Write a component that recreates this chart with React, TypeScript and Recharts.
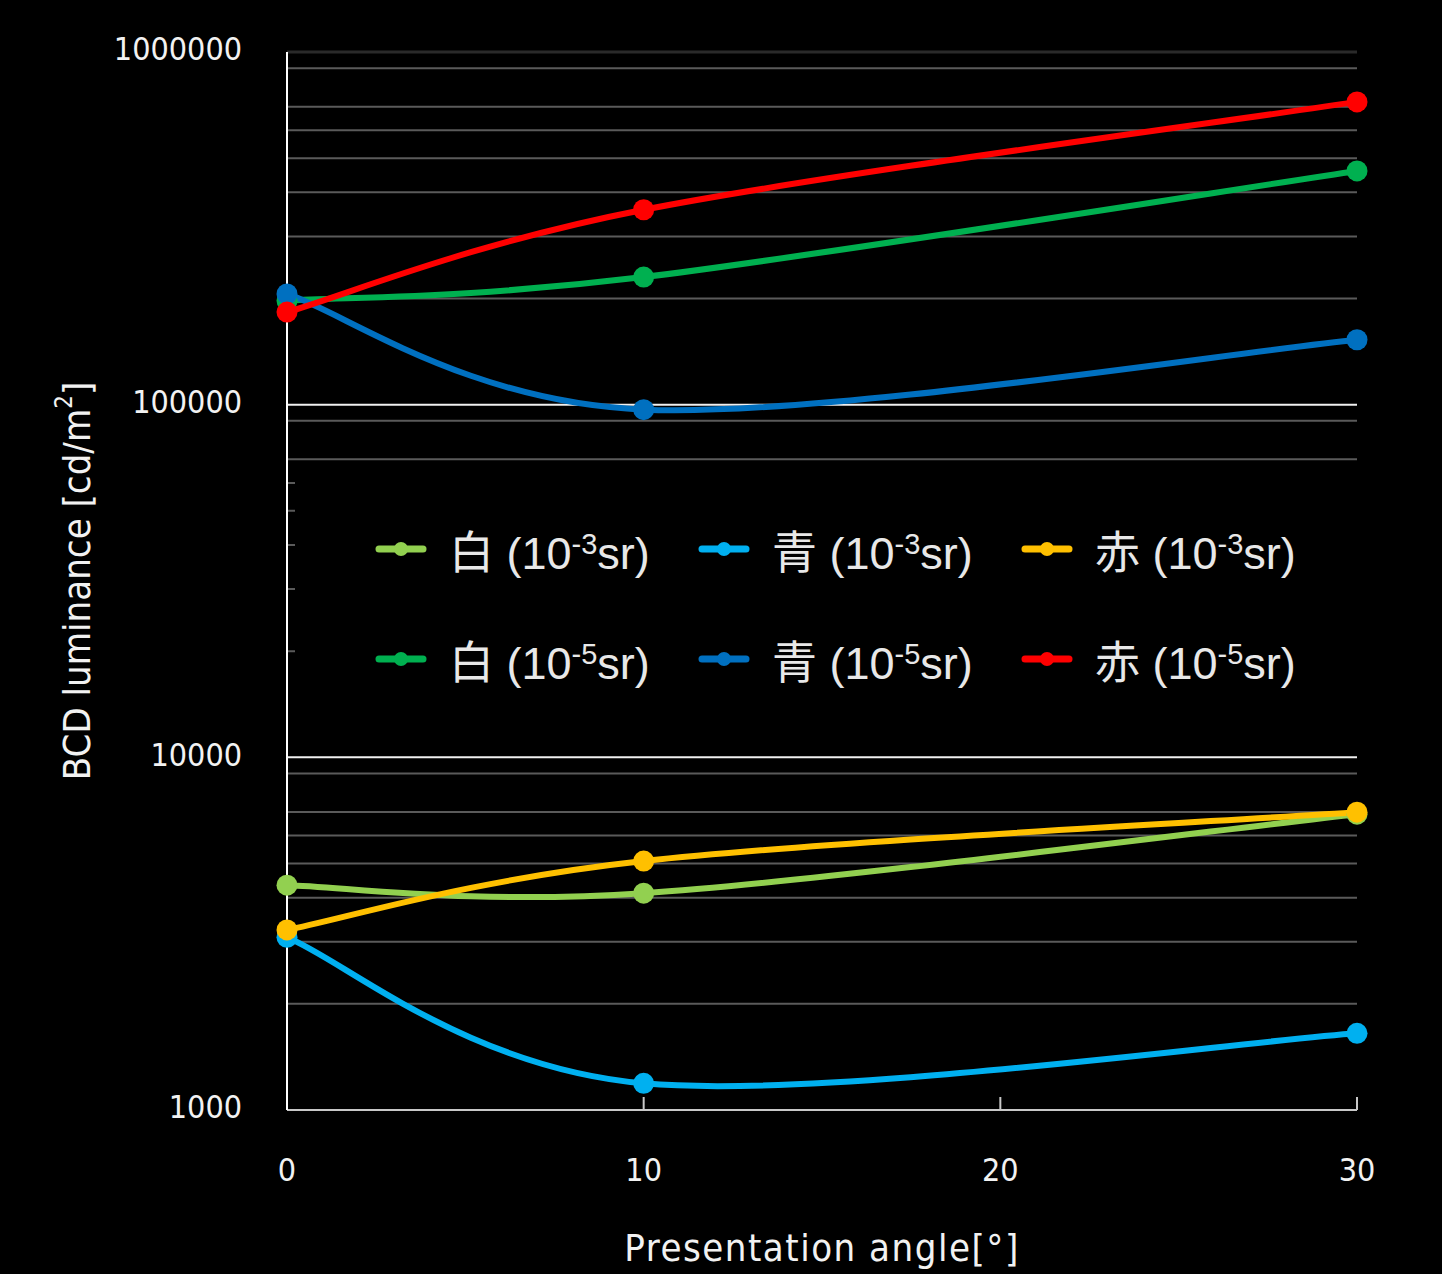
import React from "react";
import { CartesianGrid, Legend, Line, LineChart, XAxis, YAxis } from "recharts";

// presentation angle [deg]
const angles = [0, 10, 30];

// BCD luminance [cd/m2]
const white3 = [4340, 4120, 6900];
const blue3 = [3090, 1190, 1650];
const red3 = [3240, 5080, 6990];
const white5 = [197000, 230000, 460000];
const blue5 = [206000, 96800, 152800];
const red5 = [183000, 357000, 722000];

const yTicks = [1000, 10000, 100000, 1000000];
const xTicks = [0, 10, 20, 30];
const minorGrid = [1000, 10000, 100000].flatMap((d) => [2, 3, 4, 5, 6, 7, 8, 9].map((m) => d * m));
const majorGrid = [10000, 100000];

const series = [
  { key: "white3", name: "白", exp: "-3", color: "#92d050" },
  { key: "blue3", name: "青", exp: "-3", color: "#00b0f0" },
  { key: "red3", name: "赤", exp: "-3", color: "#ffc000" },
  { key: "white5", name: "白", exp: "-5", color: "#00b050" },
  { key: "blue5", name: "青", exp: "-5", color: "#0070c0" },
  { key: "red5", name: "赤", exp: "-5", color: "#ff0000" },
];

const data = angles.map((angle, i) => ({
  angle,
  white3: white3[i],
  blue3: blue3[i],
  red3: red3[i],
  white5: white5[i],
  blue5: blue5[i],
  red5: red5[i],
}));

const axisFont = "'Liberation Sans Narrow', 'DejaVu Sans Condensed', sans-serif";
const legendFont = "'Liberation Sans', Arial, 'Noto Sans CJK JP', sans-serif";

// Excel-style smoothed line (cubic bezier, 1/6 tangents)
const smoothCurve = (context: any) => {
  let pts: number[][] = [];
  return {
    areaStart() {},
    areaEnd() {},
    lineStart() {
      pts = [];
    },
    point(x: number, y: number) {
      pts.push([+x, +y]);
    },
    lineEnd() {
      if (!pts.length) return;
      context.moveTo(pts[0][0], pts[0][1]);
      for (let i = 0; i < pts.length - 1; i++) {
        const p0 = pts[Math.max(i - 1, 0)];
        const p1 = pts[i];
        const p2 = pts[i + 1];
        const p3 = pts[Math.min(i + 2, pts.length - 1)];
        context.bezierCurveTo(
          p1[0] + (p2[0] - p0[0]) / 6,
          p1[1] + (p2[1] - p0[1]) / 6,
          p2[0] - (p3[0] - p1[0]) / 6,
          p2[1] - (p3[1] - p1[1]) / 6,
          p2[0],
          p2[1]
        );
      }
    },
  };
};

function LegendIcon({ color }: { color: string }) {
  return (
    <svg width={52} height={20} style={{ display: "block" }}>
      <line x1={4} y1={10} x2={48} y2={10} stroke={color} strokeWidth={7} strokeLinecap="round" />
      <circle cx={26} cy={10} r={7} fill={color} />
    </svg>
  );
}

function renderLegend() {
  return (
    <div style={{ position: "relative", width: "100%", height: "100%" }}>
      {series.map((meta, i) => {
        const col = i % 3;
        const row = Math.floor(i / 3);
        return (
          <div
            key={meta.key}
            style={{
              position: "absolute",
              left: 80 + col * 323,
              top: 54 + row * 110,
              height: 60,
              display: "flex",
              alignItems: "center",
              whiteSpace: "nowrap",
            }}
          >
            <LegendIcon color={meta.color} />
            <span style={{ marginLeft: 22, fontFamily: legendFont, fontSize: 45, color: "#e8e8e8" }}>
              {meta.name} (10
              <span style={{ fontSize: 29, position: "relative", top: -15 }}>{meta.exp}</span>
              sr)
            </span>
          </div>
        );
      })}
    </div>
  );
}

export default function App() {
  return (
    <div style={{ position: "absolute", left: 0, top: 0, width: 1442, height: 1274, background: "#000" }}>
      <LineChart width={1442} height={1274} data={data} margin={{ top: 52, right: 85, left: 0, bottom: 0 }}>
        <CartesianGrid horizontalValues={minorGrid} vertical={false} stroke="#5a5a5a" strokeWidth={2} />
        <CartesianGrid horizontalValues={[1000000]} vertical={false} stroke="#2a2a2a" strokeWidth={3} />
        <CartesianGrid horizontalValues={majorGrid} vertical={false} stroke="#f0f0f0" strokeWidth={2} />
        <XAxis
          dataKey="angle"
          type="number"
          domain={[0, 30]}
          ticks={xTicks}
          height={164}
          tickSize={-13}
          tickMargin={61}
          axisLine={{ stroke: "#c8c8c8", strokeWidth: 2 }}
          tickLine={{ stroke: "#c8c8c8", strokeWidth: 2 }}
          tick={{ fill: "#f2f2f2", fontSize: 32, fontFamily: axisFont }}
          label={({ viewBox }: any) => (
            <text
              x={viewBox.x + viewBox.width / 2}
              y={viewBox.y + 138}
              textAnchor="middle"
              dominantBaseline="central"
              fill="#f2f2f2"
              fontSize={38}
              fontFamily={axisFont}
              letterSpacing={1.5}
            >
              Presentation angle[°]
            </text>
          )}
        />
        <YAxis
          scale="log"
          domain={[1000, 1000000]}
          ticks={yTicks}
          allowDataOverflow
          width={287}
          tickSize={0}
          tickMargin={45}
          axisLine={{ stroke: "#ffffff", strokeWidth: 2 }}
          tickLine={false}
          tick={{ fill: "#f2f2f2", fontSize: 32, fontFamily: axisFont, dy: -3 }}
          label={({ viewBox }: any) => (
            <text
              x={77}
              y={viewBox.y + viewBox.height / 2}
              transform={`rotate(-90, 77, ${viewBox.y + viewBox.height / 2})`}
              textAnchor="middle"
              dominantBaseline="central"
              fill="#f2f2f2"
              fontSize={38}
              fontFamily={axisFont}
            >
              BCD luminance [cd/m
              <tspan fontSize={24} dy={-13}>2</tspan>
              <tspan dy={13}>]</tspan>
            </text>
          )}
        />
        <Legend
          layout="horizontal"
          verticalAlign="middle"
          align="center"
          content={renderLegend}
          wrapperStyle={{ position: "absolute", left: 295, top: 465, width: 1062, height: 280, background: "#000" }}
        />
        {series.map((s) => (
          <Line
            key={s.key}
            dataKey={s.key}
            name={s.name}
            type={smoothCurve as any}
            stroke={s.color}
            strokeWidth={6}
            dot={{ r: 10.5, fill: s.color, stroke: "none" }}
            activeDot={false}
            isAnimationActive={false}
          />
        ))}
      </LineChart>
    </div>
  );
}
